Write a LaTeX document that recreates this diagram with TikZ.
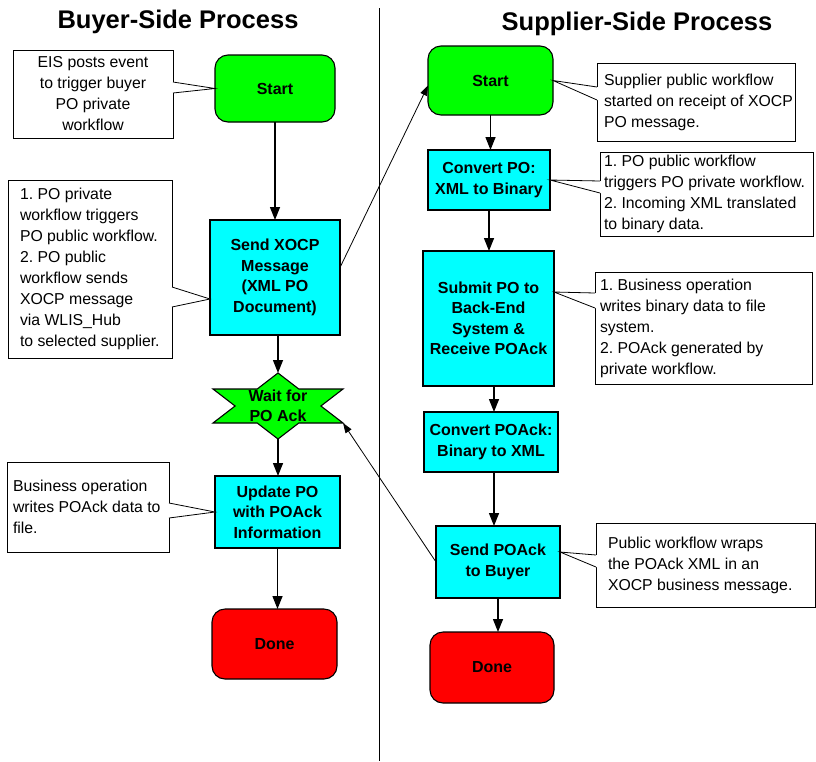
\documentclass[tikz,border=0pt]{standalone}
\usepackage{fontspec}
\setmainfont{Liberation Sans}
\usetikzlibrary{arrows.meta,calc}
\definecolor{startgreen}{RGB}{0,255,0}
\definecolor{stepcyan}{RGB}{0,255,255}
\definecolor{donered}{RGB}{255,0,0}

% callout wedge from a note box to a point: #1 note, #2 side anchor,
% #3 tip, #4/#5 y of the wedge base, #6 inward shift that hides the border
\newcommand{\notewedge}[6]{%
  \fill[white] ($(#1.#2 |- 0,#4)+(#6,0)$) -- (#1.#2 |- 0,#4) -- (#3)
     -- (#1.#2 |- 0,#5) -- ($(#1.#2 |- 0,#5)+(#6,0)$) -- cycle;
  \draw[line width=0.8pt] (#1.#2 |- 0,#4) -- (#3) -- (#1.#2 |- 0,#5);
}

\begin{document}
\frenchspacing
\begin{tikzpicture}[x=1pt,y=-1pt,
  every node/.style={inner sep=0pt, outer sep=0pt},
  procbox/.style={draw=black, line width=1.1pt, fill=stepcyan, align=center,
    font=\fontsize{16}{20.5}\selectfont\bfseries},
  startbox/.style={procbox, fill=startgreen, rounded corners=13pt},
  donebox/.style={procbox, fill=donered, rounded corners=13pt},
  notebox/.style={draw=black, line width=0.8pt, fill=white},
  notetext/.style={align=left, anchor=west, font=\fontsize{15.8}{21}\selectfont},
  flow/.style={line width=1.4pt, -{Triangle[length=13pt,width=10pt]}},
  link/.style={line width=0.8pt, -{Triangle[length=10pt,width=7pt]}},
  title/.style={font=\fontsize{25.5}{30}\selectfont\bfseries}
]
\useasboundingbox (0,0) rectangle (816,761);
\fill[white] (0,0) rectangle (816,761);

% column titles and divider
\node[title] (tbuyer) at (178,22) {Buyer-Side Process};
\node[title] (tsupp) at (637,24) {Supplier-Side Process};
\draw[line width=1pt] (379,8) -- (379,761);

% ---------------- buyer side ----------------
\node[startbox, minimum width=120pt, minimum height=67pt] (bstart) at (275,88.5) {Start};
\node[procbox, minimum width=130pt, minimum height=115pt] (bsend) at (275,277.5)
  {Send XOCP\\Message\\(XML PO\\Document)};

\node (wait) at (278,406) {};
\coordinate (wtop) at ($(wait)+(0,-33)$);
\coordinate (wbot) at ($(wait)+(0,33)$);
\coordinate (wlr) at ($(wait)+(65,17)$);
\filldraw[fill=startgreen, draw=black, line width=1.1pt]
  (wtop) -- ($(wait)+(20.8,-17)$) -- ($(wait)+(65,-17)$) -- ($(wait)+(42.9,0)$)
  -- (wlr) -- ($(wait)+(20.8,17)$) -- (wbot) -- ($(wait)+(-20.8,17)$)
  -- ($(wait)+(-65,17)$) -- ($(wait)+(-42.9,0)$) -- ($(wait)+(-65,-17)$)
  -- ($(wait)+(-20.8,-17)$) -- cycle;
\node[align=center, font=\fontsize{16}{20.5}\selectfont\bfseries] (waittext) at (wait) {Wait for\\PO Ack};

\node[procbox, minimum width=125pt, minimum height=72pt] (bupd) at (277.5,512)
  {Update PO\\with POAck\\Information};
\node[donebox, minimum width=125pt, minimum height=70pt] (bdone) at (274.5,644) {Done};

\draw[flow] (bstart.south) -- (bsend.north);
\draw[flow] (bsend.south -| wtop) -- (wtop);
\draw[flow] (wbot) -- (wbot |- bupd.north);
\draw[flow] (bupd.south) -- (bupd.south |- bdone.north);

\node[notebox, minimum width=160pt, minimum height=88pt] (nb1) at (93,94) {};
\node[notetext, align=center, anchor=center] (nb1t) at (nb1.center)
  {EIS posts event\\to trigger buyer\\PO private\\workflow};
\node[notebox, minimum width=164pt, minimum height=178pt] (nb2) at (90,269) {};
\node[notetext] (nb2t) at ([xshift=12pt]nb2.west)
  {1. PO private\\workflow triggers\\PO public workflow.\\2. PO public\\workflow sends\\XOCP message\\via WLIS\_Hub\\to selected supplier.};
\node[notebox, minimum width=162pt, minimum height=90pt] (nb3) at (88,507) {};
\node[notetext] (nb3t) at ([xshift=6pt]nb3.west)
  {Business operation\\writes POAck data to\\file.};

\notewedge{nb1}{east}{bstart.west}{82}{93}{-2}
\notewedge{nb2}{east}{$(bsend.north west)+(0,79)$}{287}{307}{-2}
\notewedge{nb3}{east}{bupd.west}{503}{518}{-2}

% ---------------- supplier side ----------------
\node[startbox, minimum width=125pt, minimum height=69pt] (sstart) at (490.5,80.5) {Start};
\node[procbox, minimum width=122pt, minimum height=60pt] (sconv) at (489,180)
  {Convert PO:\\XML to Binary};
\node[procbox, minimum width=131pt, minimum height=135pt] (ssub) at (488.5,318.5)
  {Submit PO to\\Back-End\\System \&\\Receive POAck};
\node[procbox, minimum width=134pt, minimum height=60pt] (sconvack) at (491,442)
  {Convert POAck:\\Binary to XML};
\node[procbox, minimum width=124pt, minimum height=72pt] (ssend) at (498,562)
  {Send POAck\\to Buyer};
\node[donebox, minimum width=124pt, minimum height=71pt] (sdone) at (492,667.5) {Done};

\draw[flow] (sstart.south) -- (sstart.south |- sconv.north);
\draw[flow] (sconv.south) -- (sconv.south |- ssub.north);
\draw[flow] ([xshift=5.5pt]ssub.south) -- ([xshift=5.5pt]ssub.south |- sconvack.north);
\draw[flow] ([xshift=3pt]sconvack.south) -- ([xshift=3pt]sconvack.south |- ssend.north);
\draw[flow] (ssend.south) -- (ssend.south |- sdone.north);

\node[notebox, minimum width=198pt, minimum height=78pt] (ns1) at (696,102) {};
\node[notetext] (ns1t) at ([xshift=7pt]ns1.west)
  {Supplier public workflow\\started on receipt of XOCP\\PO message.};
\node[notebox, minimum width=213pt, minimum height=84pt] (ns2) at (706.5,194) {};
\node[notetext] (ns2t) at ([xshift=4pt]ns2.west)
  {1. PO public workflow\\triggers PO private workflow.\\2. Incoming XML translated\\to binary data.};
\node[notebox, minimum width=217pt, minimum height=112pt] (ns3) at (703.5,328) {};
\node[notetext] (ns3t) at ([xshift=5pt]ns3.west)
  {1. Business operation\\writes binary data to file\\system.\\2. POAck generated by\\private workflow.};
\node[notebox, minimum width=219pt, minimum height=84pt] (ns4) at (705.5,565) {};
\node[notetext] (ns4t) at ([xshift=12pt]ns4.west)
  {Public workflow wraps\\the POAck XML in an\\XOCP business message.};

\notewedge{ns1}{west}{sstart.east}{87}{100}{2}
\notewedge{ns2}{west}{sconv.east}{181}{193}{2}
\notewedge{ns3}{west}{$(ssub.north east)+(0,41)$}{293}{308}{2}
\notewedge{ns4}{west}{$(ssend.north east)+(0,26)$}{555}{567}{2}

% ---------------- messages between the two sides ----------------
\draw[link] ($(bsend.east)+(0,-10)$) -- ($(sstart.west)+(0,5)$);
\draw[link] (ssend.west) -- (wlr);
\end{tikzpicture}
\end{document}
